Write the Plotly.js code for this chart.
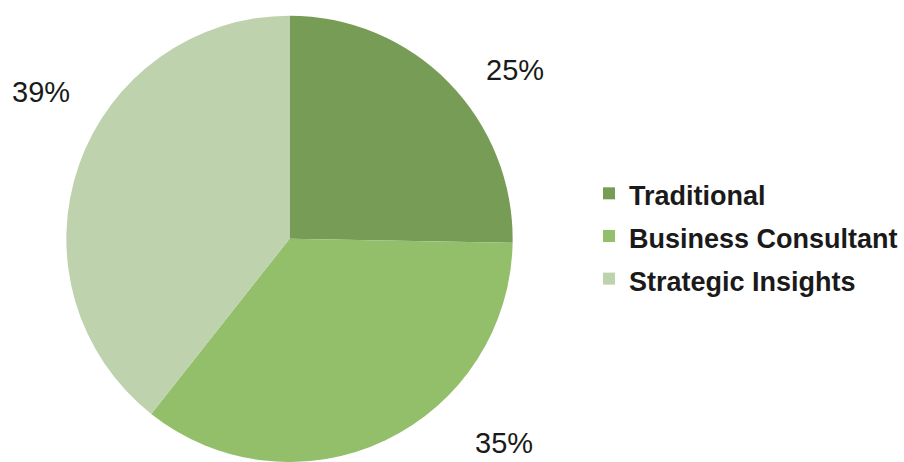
<!DOCTYPE html>
<html>
<head>
<meta charset="utf-8">
<script src="https://cdn.plot.ly/plotly-3.0.1.min.js"></script>
<style>
  html, body { margin: 0; padding: 0; background: #fff; }
  #chart { width: 904px; height: 462px; }
</style>
</head>
<body>
<div id="chart"></div>
<script>
// slice data (labels show rounded shares)
var labels = ["Traditional", "Business Consultant", "Strategic Insights"];
var shares = [25.3, 35.4, 39.4];
var colors = ["#779c55", "#93bf6a", "#bed2ae"];
// where each percentage label sits, in pixels of the 904x462 page
var labelPx = [[515, 70], [504, 443], [41, 92]];

var W = 904, H = 462;
var total = shares.reduce(function (s, v) { return s + v; }, 0);

var notes = [];
for (var i = 0; i < shares.length; i++) {
  notes.push({
    text: Math.round(shares[i] / total * 100) + "%",
    xref: "paper", yref: "paper",
    x: labelPx[i][0] / W,
    y: 1 - labelPx[i][1] / H,
    xanchor: "center", yanchor: "middle",
    showarrow: false,
    font: { family: "Liberation Sans, Arial, sans-serif", size: 29, color: "#1a1a1a" }
  });
}

// wrap names so the legend rows get a taller line box than the text itself
var legendNames = labels.map(function (l) {
  return '<span style="font-size:27px">' + l + "</span>";
});

Plotly.newPlot(
  "chart",
  [
    {
      type: "pie",
      labels: legendNames,
      values: shares,
      sort: false,
      direction: "clockwise",
      rotation: 0,
      textinfo: "none",
      hoverinfo: "none",
      marker: { colors: colors, line: { width: 0 } },
      domain: { x: [64 / W, 515 / W], y: [0, 0.966] },
    },
  ],
  {
    width: W,
    height: H,
    margin: { l: 0, r: 0, t: 0, b: 0 },
    paper_bgcolor: "#ffffff",
    showlegend: true,
    legend: {
      x: 589 / W,
      xanchor: "left",
      y: 1 - 236 / H,
      yanchor: "middle",
      font: { family: "Liberation Sans, Arial, sans-serif", size: 30.5, color: "#1a1a1a", weight: "bold" },
      bgcolor: "rgba(0,0,0,0)",
    },
    annotations: notes,
  },
  { displayModeBar: false, staticPlot: true }
);
</script>
</body>
</html>
